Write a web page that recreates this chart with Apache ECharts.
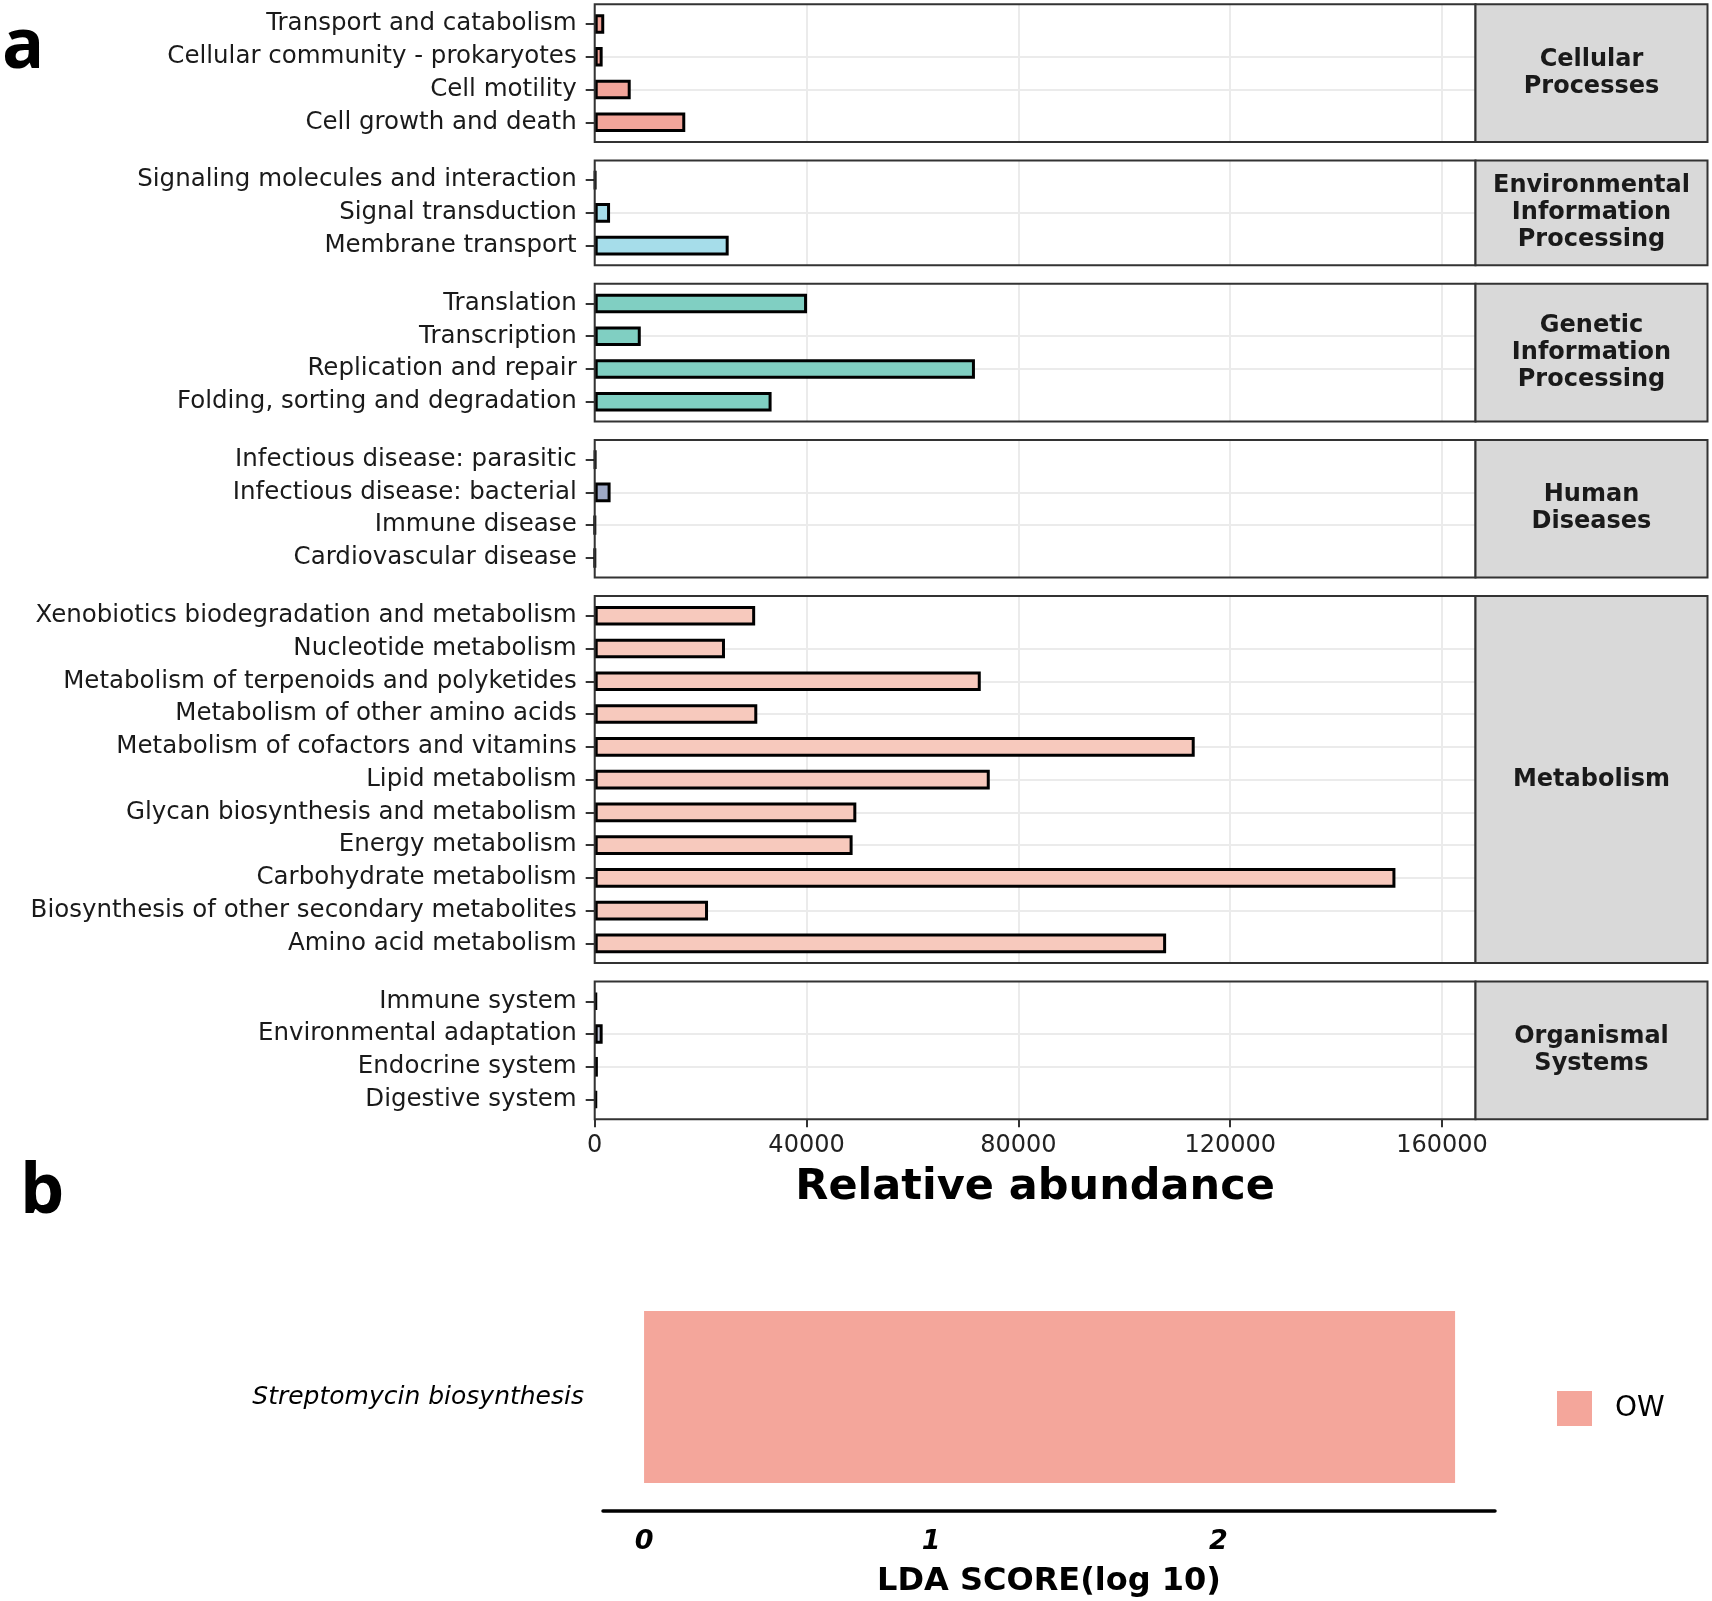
<!DOCTYPE html>
<html><head><meta charset="utf-8">
<script src="https://cdn.jsdelivr.net/npm/echarts@6/dist/echarts.min.js"></script>
<style>html,body{margin:0;padding:0;background:#fff}#c{width:1712px;height:1601px}</style>
</head><body><div id="c"></div>
<script>
// ---------- data ----------
const groupNames = ["Cellular\nProcesses", "Environmental\nInformation\nProcessing", "Genetic\nInformation\nProcessing", "Human\nDiseases", "Metabolism", "Organismal\nSystems"];
const cellularCats = ["Cell growth and death", "Cell motility", "Cellular community - prokaryotes", "Transport and catabolism"];
const cellularVals = [17100, 6800, 1500, 1800];
const envCats = ["Membrane transport", "Signal transduction", "Signaling molecules and interaction"];
const envVals = [25300, 2900, 150];
const geneticCats = ["Folding, sorting and degradation", "Replication and repair", "Transcription", "Translation"];
const geneticVals = [33400, 71800, 8700, 40100];
const humanCats = ["Cardiovascular disease", "Immune disease", "Infectious disease: bacterial", "Infectious disease: parasitic"];
const humanVals = [40, 40, 3000, 150];
const metabCats = ["Amino acid metabolism", "Biosynthesis of other secondary metabolites", "Carbohydrate metabolism", "Energy metabolism", "Glycan biosynthesis and metabolism", "Lipid metabolism", "Metabolism of cofactors and vitamins", "Metabolism of other amino acids", "Metabolism of terpenoids and polyketides", "Nucleotide metabolism", "Xenobiotics biodegradation and metabolism"];
const metabVals = [107900, 21400, 151200, 48700, 49400, 74600, 113300, 30700, 72900, 24600, 30300];
const orgCats = ["Digestive system", "Endocrine system", "Environmental adaptation", "Immune system"];
const orgVals = [400, 600, 1500, 400];
const abundanceTicks = [0, 40000, 80000, 120000, 160000];
const ldaCats = ["Streptomycin biosynthesis"];
const ldaVals = [2.824];
const ldaGroup = "OW";
const ldaTicks = [0, 1, 2];

// ---------- styles / layout ----------
const colors = ['#F2A59A', '#A6DDEA', '#80CFC2', '#9EA9C6', '#F7C9BD', '#C2C8DA'];
const panels = [
  {cats: cellularCats, vals: cellularVals},
  {cats: envCats, vals: envVals},
  {cats: geneticCats, vals: geneticVals},
  {cats: humanCats, vals: humanVals},
  {cats: metabCats, vals: metabVals},
  {cats: orgCats, vals: orgVals}
];
const U = 32.77, GAP = 18.5, TOP = 4.3, LEFT = 594.7, PW = 880.8, SW = 232;
const allVals = [].concat(...panels.map(p => p.vals));
const xMax = Math.max(...allVals) * 1.1;
const FONT = 'DejaVu Sans';

const grids = [], xAxes = [], yAxes = [], series = [], graphics = [];
let y = TOP;
panels.forEach((p, i) => {
  const n = p.cats.length;
  const h = (n + 0.2) * U;
  const last = i === panels.length - 1;
  const go = grids.length;
  // outer grid: full panel, vertical grid lines + x labels
  grids.push({left: LEFT, top: y, width: PW, height: h, show: false});
  xAxes.push({
    type: 'value', gridIndex: go, min: 0, max: xMax, interval: abundanceTicks[1] - abundanceTicks[0],
    axisLine: {show: false},
    axisTick: {show: last, length: 8, lineStyle: {color: '#333', width: 2}},
    axisLabel: {show: last, fontSize: 24, color: '#222', margin: 15, fontFamily: FONT, showMaxLabel: false,
      formatter: v => String(v)},
    splitLine: {show: true, lineStyle: {color: '#EBEBEB', width: 2}},
    name: last ? 'Relative abundance' : '', nameLocation: 'middle', nameGap: 47,
    nameTextStyle: {fontSize: 43, fontWeight: 'bold', color: '#000', fontFamily: FONT}
  });
  yAxes.push({type: 'value', gridIndex: go, min: 0, max: 1, show: false});
  // inner grid: category rows with ggplot-like 0.6 padding
  const gi = grids.length;
  grids.push({left: LEFT, top: y + 0.1 * U, width: PW, height: n * U, show: false});
  xAxes.push({type: 'value', gridIndex: gi, min: 0, max: xMax, show: false, splitLine: {show: false}});
  yAxes.push({
    type: 'category', gridIndex: gi, data: p.cats,
    axisLine: {show: false},
    axisTick: {show: true, alignWithLabel: true, length: 9, lineStyle: {color: '#333', width: 2}},
    axisLabel: {fontSize: 24.5, color: '#1a1a1a', margin: 18, interval: 0, fontFamily: FONT},
    splitLine: {show: true, alignWithLabel: true, interval: 0, showMinLine: false, showMaxLine: false,
      lineStyle: {color: '#EBEBEB', width: 2}}
  });
  series.push({
    type: 'bar', xAxisIndex: gi, yAxisIndex: gi, data: p.vals, barWidth: 0.6 * U, silent: true,
    itemStyle: {color: colors[i], borderColor: '#000', borderWidth: 3}
  });
  graphics.push({type: 'rect', z: 100, silent: true, shape: {x: LEFT, y: y, width: PW, height: h},
    style: {fill: 'none', stroke: '#333', lineWidth: 2}});
  graphics.push({type: 'rect', z: 100, silent: true, shape: {x: LEFT + PW, y: y, width: SW, height: h},
    style: {fill: '#D9D9D9', stroke: '#333', lineWidth: 2}});
  graphics.push({type: 'text', z: 101, silent: true, x: LEFT + PW + SW / 2, y: y + h / 2,
    style: {text: groupNames[i], fill: '#1A1A1A', fontSize: 24, fontWeight: 'bold', fontFamily: FONT,
      align: 'center', verticalAlign: 'middle', lineHeight: 27}});
  y += h + GAP;
});

// panel b
const bi = grids.length;
grids.push({left: 603, top: 1283, width: 892, height: 228, show: false});
xAxes.push({
  type: 'value', gridIndex: bi, min: -0.143, max: 2.963,
  axisLine: {show: true, lineStyle: {color: '#000', width: 3.5}},
  axisTick: {show: false},
  splitLine: {show: false},
  axisLabel: {customValues: ldaTicks, fontSize: 27, fontWeight: 'bold', fontStyle: 'italic', color: '#000', margin: 17, fontFamily: FONT},
  name: 'LDA SCORE(log 10)', nameLocation: 'middle', nameGap: 55,
  nameTextStyle: {fontSize: 32, fontWeight: 'bold', color: '#000', fontFamily: FONT}
});
yAxes.push({
  type: 'category', gridIndex: bi, data: ldaCats,
  axisLine: {show: false, onZero: false}, axisTick: {show: false},
  axisLabel: {fontSize: 25, fontStyle: 'italic', color: '#000', margin: 19, fontFamily: FONT},
  splitLine: {show: false}
});
series.push({type: 'bar', name: ldaGroup, xAxisIndex: bi, yAxisIndex: bi, data: ldaVals, barWidth: 172,
  silent: true, itemStyle: {color: '#F4A69B'}});

// panel letters
graphics.push({type: 'text', x: 2, y: 48, style: {text: 'a', fontSize: 70, fontWeight: 'bold',
  fontFamily: "'Liberation Sans Narrow', 'Open Sans', sans-serif", fill: '#000', verticalAlign: 'middle'}});
graphics.push({type: 'text', x: 20, y: 1193, style: {text: 'b', fontSize: 70, fontWeight: 'bold',
  fontFamily: "'Liberation Sans Narrow', 'Open Sans', sans-serif", fill: '#000', verticalAlign: 'middle'}});

const chart = echarts.init(document.getElementById('c'), null, {renderer: 'canvas'});
chart.setOption({
  backgroundColor: '#fff',
  animation: false,
  textStyle: {fontFamily: FONT},
  grid: grids, xAxis: xAxes, yAxis: yAxes, series: series,
  legend: {data: [ldaGroup], left: 1552, top: 1386, itemWidth: 35, itemHeight: 35, icon: 'rect',
    textStyle: {fontSize: 28, color: '#000', padding: [0, 0, 0, 18], fontFamily: FONT}},
  graphic: graphics
});
</script></body></html>
